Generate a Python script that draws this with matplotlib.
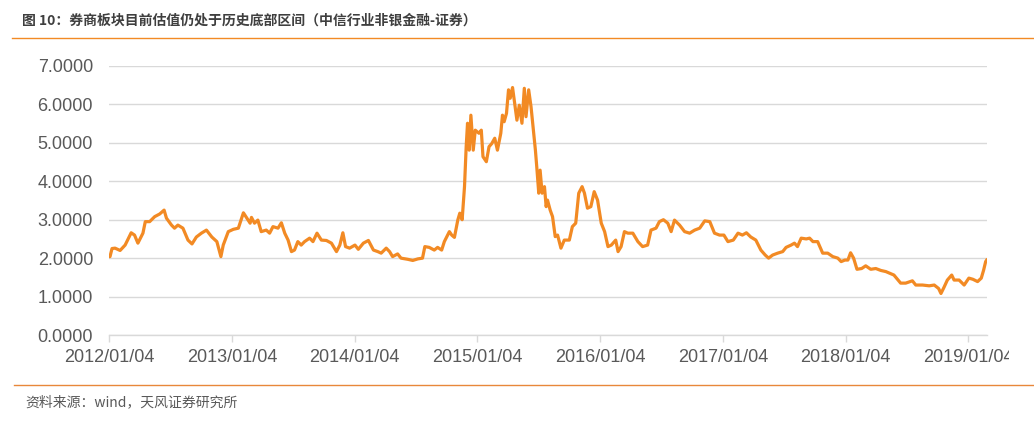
import matplotlib
matplotlib.use("Agg")
import matplotlib.pyplot as plt
from matplotlib.patches import Rectangle
import pandas as pd

# PB of the CITIC securities sub-index
dates = [
    "2012-01-04", "2012-01-07", "2012-01-13", "2012-01-22", "2012-02-06", "2012-02-21", "2012-03-10",
    "2012-03-20", "2012-03-30", "2012-04-14", "2012-04-21", "2012-05-04", "2012-05-19", "2012-06-03",
    "2012-06-16", "2012-06-23", "2012-07-08", "2012-07-17", "2012-07-27", "2012-08-11", "2012-08-26",
    "2012-09-07", "2012-09-20", "2012-10-05", "2012-10-20", "2012-11-05", "2012-11-20", "2012-12-02",
    "2012-12-09", "2012-12-24",
    "2013-01-08", "2013-01-23", "2013-02-07", "2013-02-18", "2013-02-27", "2013-03-03", "2013-03-12",
    "2013-03-22", "2013-04-01", "2013-04-16", "2013-04-26", "2013-05-06", "2013-05-21", "2013-05-31",
    "2013-06-10", "2013-06-20", "2013-06-30", "2013-07-09", "2013-07-19", "2013-07-29", "2013-08-08",
    "2013-08-23", "2013-09-02", "2013-09-14", "2013-09-27", "2013-10-12", "2013-10-27", "2013-11-11",
    "2013-11-21", "2013-11-30", "2013-12-08", "2013-12-20",
    "2014-01-05", "2014-01-15", "2014-01-30", "2014-02-14", "2014-03-01", "2014-03-14", "2014-03-24",
    "2014-04-08", "2014-04-18", "2014-04-27", "2014-05-12", "2014-05-22", "2014-06-11", "2014-06-26",
    "2014-07-11", "2014-07-25", "2014-08-01", "2014-08-14", "2014-08-29", "2014-09-08", "2014-09-20",
    "2014-09-28", "2014-10-13", "2014-10-20", "2014-10-28", "2014-11-07", "2014-11-13", "2014-11-20",
    "2014-11-27", "2014-12-02", "2014-12-06", "2014-12-11", "2014-12-16", "2014-12-23", "2014-12-29",
    "2015-01-09", "2015-01-16", "2015-01-21", "2015-01-31", "2015-02-08", "2015-02-16", "2015-02-25",
    "2015-03-05", "2015-03-15", "2015-03-20", "2015-03-25", "2015-04-01", "2015-04-07", "2015-04-12",
    "2015-04-19", "2015-04-24", "2015-05-02", "2015-05-09", "2015-05-17", "2015-05-24", "2015-05-29",
    "2015-06-06", "2015-06-13", "2015-06-20", "2015-06-26", "2015-06-30", "2015-07-06", "2015-07-10",
    "2015-07-16", "2015-07-23", "2015-07-28", "2015-08-01", "2015-08-09", "2015-08-16", "2015-08-24",
    "2015-08-31", "2015-09-10", "2015-09-20", "2015-10-05", "2015-10-14", "2015-10-24", "2015-11-02",
    "2015-11-12", "2015-11-19", "2015-11-28", "2015-12-08", "2015-12-18", "2015-12-28",
    "2016-01-08", "2016-01-18", "2016-01-28", "2016-02-07", "2016-02-20", "2016-02-27", "2016-03-07",
    "2016-03-17", "2016-03-27", "2016-04-11", "2016-04-26", "2016-05-10", "2016-05-25", "2016-06-04",
    "2016-06-19", "2016-06-29", "2016-07-11", "2016-07-24", "2016-08-03", "2016-08-13", "2016-08-28",
    "2016-09-12", "2016-09-27", "2016-10-12", "2016-10-27", "2016-11-11", "2016-11-26", "2016-12-10",
    "2016-12-25",
    "2017-01-07", "2017-01-19", "2017-02-04", "2017-02-18", "2017-03-03", "2017-03-15", "2017-03-28",
    "2017-04-12", "2017-04-27", "2017-05-10", "2017-05-20", "2017-06-01", "2017-06-16", "2017-07-01",
    "2017-07-11", "2017-07-26", "2017-08-05", "2017-08-14", "2017-08-25", "2017-09-09", "2017-09-19",
    "2017-09-29", "2017-10-13", "2017-10-28", "2017-11-12", "2017-11-27", "2017-12-12", "2017-12-22",
    "2018-01-02", "2018-01-11", "2018-01-19", "2018-01-28", "2018-02-07", "2018-02-21", "2018-03-05",
    "2018-03-20", "2018-04-04", "2018-04-19", "2018-05-04", "2018-05-28", "2018-06-17", "2018-07-02",
    "2018-07-22", "2018-08-01", "2018-08-21", "2018-09-10", "2018-09-25", "2018-10-08", "2018-10-15",
    "2018-10-24", "2018-11-03", "2018-11-16", "2018-11-23", "2018-12-08", "2018-12-23",
    "2019-01-06", "2019-01-18", "2019-02-01", "2019-02-12", "2019-02-19", "2019-02-25", "2019-02-28",
]
pb = [
    2.04, 2.04, 2.25, 2.26, 2.20, 2.34, 2.66,
    2.60, 2.39, 2.65, 2.95, 2.95, 3.08, 3.15,
    3.25, 3.04, 2.86, 2.78, 2.86, 2.78, 2.47,
    2.37, 2.55, 2.65, 2.73, 2.55, 2.43, 2.04,
    2.34, 2.69,
    2.75, 2.78, 3.18, 3.03, 2.91, 3.06, 2.91,
    2.99, 2.69, 2.73, 2.65, 2.82, 2.78, 2.92,
    2.65, 2.47, 2.17, 2.21, 2.43, 2.34, 2.43,
    2.52, 2.43, 2.65, 2.47, 2.46, 2.39, 2.17,
    2.34, 2.66, 2.30, 2.26,
    2.34, 2.23, 2.39, 2.46, 2.21, 2.17, 2.13,
    2.26, 2.17, 2.04, 2.11, 2.00, 1.97, 1.94,
    1.98, 2.00, 2.30, 2.28, 2.21, 2.28, 2.21,
    2.43, 2.69, 2.60, 2.54, 2.99, 3.17, 3.00,
    3.86, 4.90, 5.51, 4.81, 5.72, 4.81, 5.33,
    5.25, 5.33, 4.64, 4.51, 4.90, 4.98, 5.12,
    4.81, 5.25, 5.72, 5.55, 5.77, 6.38, 6.16,
    6.44, 6.12, 5.59, 5.98, 5.51, 6.42, 5.68,
    6.38, 5.94, 5.33, 4.81, 4.38, 3.69, 4.29,
    3.69, 3.86, 3.34, 3.51, 3.25, 3.08, 2.56,
    2.60, 2.26, 2.47, 2.47, 2.82, 2.91, 3.69,
    3.86, 3.69, 3.30, 3.34, 3.73, 3.51,
    2.91, 2.69, 2.30, 2.34, 2.47, 2.17, 2.30,
    2.69, 2.65, 2.65, 2.43, 2.30, 2.34, 2.73,
    2.78, 2.95, 3.00, 2.91, 2.69, 2.99, 2.86,
    2.69, 2.65, 2.73, 2.78, 2.97, 2.95, 2.65,
    2.60,
    2.60, 2.43, 2.47, 2.65, 2.60, 2.66, 2.55,
    2.47, 2.21, 2.08, 2.00, 2.08, 2.13, 2.17,
    2.28, 2.34, 2.39, 2.30, 2.52, 2.50, 2.52,
    2.43, 2.43, 2.13, 2.13, 2.04, 2.00, 1.91,
    1.95, 1.95, 2.14, 2.00, 1.71, 1.73, 1.80,
    1.71, 1.73, 1.68, 1.65, 1.56, 1.35, 1.35,
    1.41, 1.30, 1.30, 1.28, 1.30, 1.21, 1.08,
    1.24, 1.43, 1.56, 1.43, 1.43, 1.30,
    1.48, 1.45, 1.39, 1.48, 1.69, 1.91, 1.95,
]
tick_dates = ["2012-01-04", "2013-01-04", "2014-01-04", "2015-01-04",
              "2016-01-04", "2017-01-04", "2018-01-04", "2019-01-04"]
tick_labels = [d.replace("-", "/") for d in tick_dates]
y_ticks = [0, 1, 2, 3, 4, 5, 6, 7]

title = "图 10：券商板块目前估值仍处于历史底部区间（中信行业非银金融-证券）"
source = "资料来源：wind，天风证券研究所"

cjk = ["Noto Sans CJK SC", "DejaVu Sans"]
orange = "#f28a24"
grey_text = "#595959"
grid_c = "#d9d9d9"

W, H = 1034, 428
fig = plt.figure(figsize=(W / 100, H / 100), dpi=100)
ax = fig.add_axes([109 / W, 1 - 335 / H, (987 - 109) / W, (335 - 66) / H])

x = pd.to_datetime(dates)
ax.plot(x, pb, color=orange, lw=2.3, solid_joinstyle="round", zorder=3)

ax.set_ylim(0, 7)
ax.set_xlim(pd.Timestamp("2012-01-04"), pd.Timestamp("2019-03-01"))
ax.set_yticks(y_ticks)
ax.set_yticklabels([f"{v:.4f}" for v in y_ticks])
ax.set_xticks(pd.to_datetime(tick_dates))
ax.set_xticklabels(tick_labels)

ax.grid(axis="y", color=grid_c, lw=1.0)
ax.set_axisbelow(True)
for side in ["top", "right", "left"]:
    ax.spines[side].set_visible(False)
ax.spines["bottom"].set_color(grid_c)
ax.spines["bottom"].set_linewidth(1.0)

ax.tick_params(axis="y", length=0, pad=11.5, labelsize=13, labelcolor=grey_text)
ax.tick_params(axis="x", length=5, width=1, color=grid_c, pad=5,
               labelsize=13, labelcolor=grey_text)
for lab in ax.get_xticklabels() + ax.get_yticklabels():
    lab.set_fontfamily("Liberation Sans")

# the original picture is cut just after "2019/01/0"
fig.add_artist(Rectangle((1009 / W, 1 - 372 / H), 30 / W, 30 / H, facecolor="white",
                         edgecolor="none", transform=fig.transFigure, zorder=10))

fig.text(22 / W, 1 - 21 / H, title, fontsize=10.0, fontweight="bold",
         color="#3f3f3f", family=cjk, va="center", ha="left")
fig.add_artist(plt.Line2D([12 / W, 1], [1 - 38 / H] * 2, color=orange, lw=1.0,
                          transform=fig.transFigure))
fig.add_artist(plt.Line2D([14 / W, 1], [1 - 385 / H] * 2, color="#e8873a", lw=1.0,
                          transform=fig.transFigure))
fig.text(25 / W, 1 - 402 / H, source, fontsize=10, color=grey_text,
         family=cjk, va="center", ha="left")

fig.savefig("out.png", dpi=100)
